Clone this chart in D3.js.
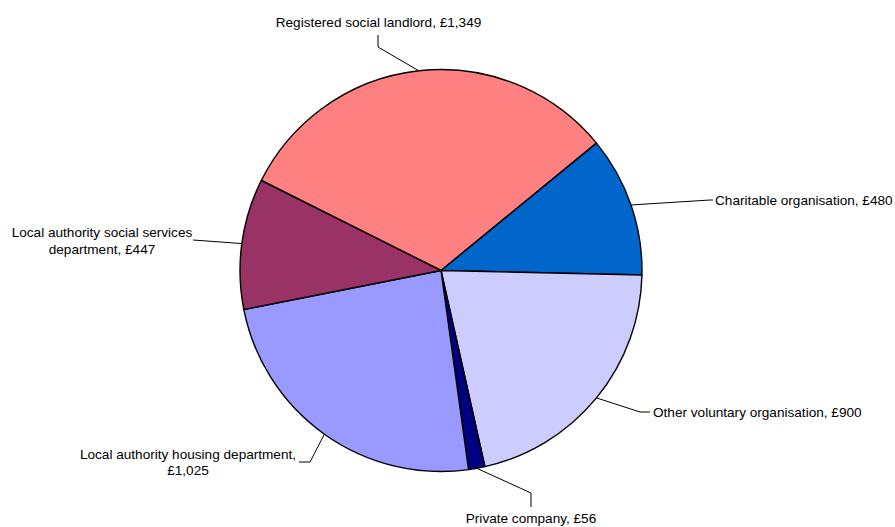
<!DOCTYPE html>
<html>
<head>
<meta charset="utf-8">
<script src="https://cdn.jsdelivr.net/npm/d3@7"></script>
<style>
  html, body { margin: 0; padding: 0; background: #fff; }
  text { font-family: "Liberation Sans", Arial, sans-serif; font-size: 13.6px; fill: #000; }
</style>
</head>
<body>
<svg id="chart" width="895" height="527"></svg>
<script>
// ---- data ----
const categories = [
  "Registered social landlord",
  "Charitable organisation",
  "Other voluntary organisation",
  "Private company",
  "Local authority housing department",
  "Local authority social services department"
];
const values = [1349, 480, 900, 56, 1025, 447];
const colors = ["#FF8080", "#0066CC", "#CCCCFF", "#000080", "#9999FF", "#993366"];

// label text lines (as printed)
const labelLines = [
  ["Registered social landlord, £1,349"],
  ["Charitable organisation, £480"],
  ["Other voluntary organisation, £900"],
  ["Private company, £56"],
  ["Local authority housing department,", "£1,025"],
  ["Local authority social services", "department, £447"]
];

// ---- layout ----
const cx = 441, cy = 270.5, r = 201;
const startDeg = 296.6;
// leader layout: elbow point, end point, text anchor position, alignment
const leaders = [
  { elbow: [378, 47], end: [378, 35], tx: 378.5, ty: 27, anchor: "middle" },
  { elbow: [710, 200], end: [713, 200], tx: 715, ty: 205, anchor: "start" },
  { elbow: [640, 412], end: [650, 412], tx: 653, ty: 417, anchor: "start" },
  { elbow: [531, 493], end: [531, 507], tx: 531, ty: 523, anchor: "middle" },
  { elbow: [310, 462], end: [299, 462], tx: 188, ty: 459, anchor: "middle", lineH: 16 },
  { elbow: [193, 240], end: [193, 240], tx: 102, ty: 237, anchor: "middle", lineH: 17 }
];

const svg = d3.select("#chart");
const g = svg.append("g").attr("transform", `translate(${cx},${cy})`);

const pie = d3.pie().sort(null).value(d => d)
  .startAngle(startDeg * Math.PI / 180)
  .endAngle(startDeg * Math.PI / 180 + 2 * Math.PI);
const arcs = pie(values);
const arc = d3.arc().innerRadius(0).outerRadius(r);

g.selectAll("path.slice").data(arcs).join("path")
  .attr("class", "slice")
  .attr("d", arc)
  .attr("fill", (d, i) => colors[i])
  .attr("stroke", "#000")
  .attr("stroke-width", 1.4)
  .attr("stroke-linejoin", "round");

// leader lines
arcs.forEach((d, i) => {
  const a = (d.startAngle + d.endAngle) / 2;
  const px = cx + r * Math.sin(a);
  const py = cy - r * Math.cos(a);
  const L = leaders[i];
  svg.append("polyline")
    .attr("points", [[px, py], L.elbow, L.end].map(p => p.join(",")).join(" "))
    .attr("fill", "none")
    .attr("stroke", "#000")
    .attr("stroke-width", 1);
  const t = svg.append("text")
    .attr("x", L.tx).attr("y", L.ty)
    .attr("text-anchor", L.anchor);
  labelLines[i].forEach((line, j) => {
    t.append("tspan").attr("x", L.tx).attr("dy", j === 0 ? 0 : (L.lineH || 17)).text(line);
  });
});
</script>
</body>
</html>
